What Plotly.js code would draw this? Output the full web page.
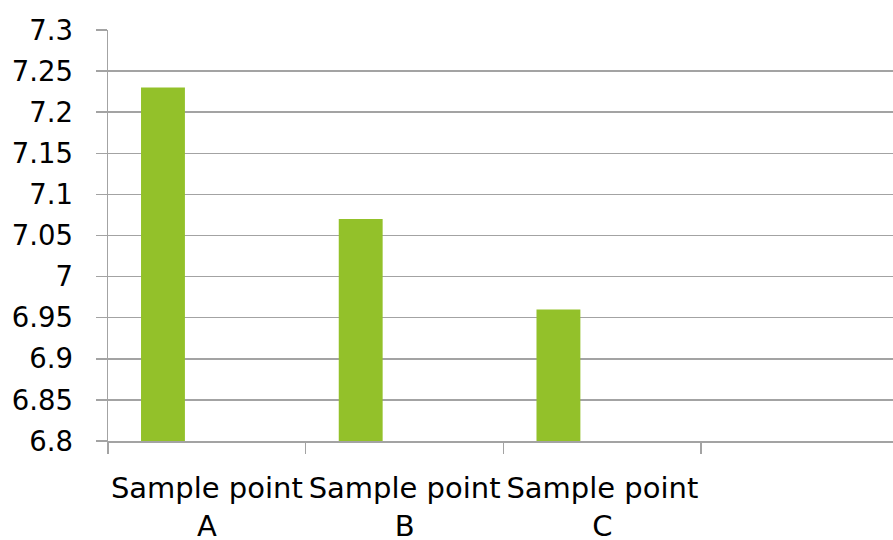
<!DOCTYPE html>
<html>
<head>
<meta charset="utf-8">
<script src="https://cdn.plot.ly/plotly-3.0.1.min.js"></script>
<style>html,body{margin:0;padding:0;background:#fff;}#chart{width:893px;height:540px;}</style>
</head>
<body>
<div id="chart"></div>
<script>
const categories = ["Sample point<br>A", "Sample point<br>B", "Sample point<br>C"];
const values = [7.23, 7.07, 6.96];
const yTickVals = [6.8, 6.85, 6.9, 6.95, 7, 7.05, 7.1, 7.15, 7.2, 7.25, 7.3];
const yTickText = ["6.8", "6.85", "6.9", "6.95", "7", "7.05", "7.1", "7.15", "7.2", "7.25", "7.3"];

const gray = "#a3a3a3";
const yFont = {family: "DejaVu Sans, Verdana, sans-serif", size: 27.5, color: "#000"};
const xFont = {family: "DejaVu Sans, Verdana, sans-serif", size: 29, color: "#000"};

Plotly.newPlot("chart", [{
  type: "bar",
  x: categories,
  y: values,
  width: 0.222,
  offset: -0.333,
  marker: {color: "#93c12a", line: {width: 0}},
  hoverinfo: "none"
}], {
  width: 893, height: 540,
  margin: {l: 108, r: 0, t: 30, b: 99, pad: 0},
  paper_bgcolor: "#fff", plot_bgcolor: "#fff",
  showlegend: false,
  font: yFont,
  xaxis: {
    type: "category",
    range: [-0.5, 3.47],
    tickson: "boundaries",
    tickangle: 0,
    ticks: "outside", ticklen: 11, tickwidth: 1.5, tickcolor: gray,
    showgrid: false, showline: true, linecolor: gray, linewidth: 1.5,
    ticklabelstandoff: 21,
    tickfont: xFont,
    zeroline: false
  },
  yaxis: {
    range: [6.8, 7.3],
    tickvals: yTickVals, ticktext: yTickText,
    ticks: "outside", ticklen: 11, tickwidth: 1.5, tickcolor: gray,
    showgrid: true, gridcolor: gray, gridwidth: 1.5,
    showline: true, linecolor: gray, linewidth: 1.5,
    ticklabelstandoff: 17,
    tickfont: yFont,
    zeroline: false
  }
}, {staticPlot: true, displayModeBar: false});
</script>
</body>
</html>
